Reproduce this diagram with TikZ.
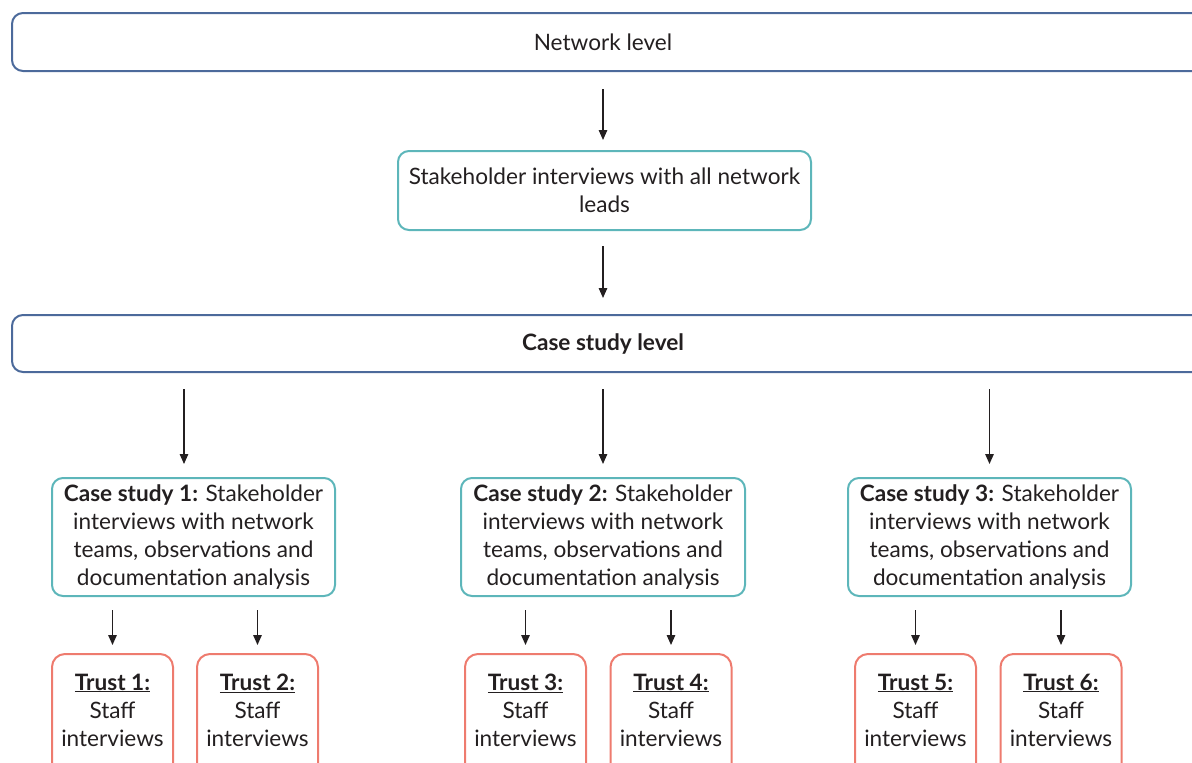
\documentclass[tikz,border=0pt]{standalone}
\usepackage{fontspec}
\setmainfont{Lato}
\usetikzlibrary{calc,arrows.meta}
\definecolor{bluebd}{HTML}{4C6A9B}
\definecolor{tealbd}{HTML}{5DB6BA}
\definecolor{salbd}{HTML}{EE7B6E}
\definecolor{txt}{HTML}{231F20}
\begin{document}
\begin{tikzpicture}[x=1pt,y=-1pt,
  tx/.style={text=txt,font=\fontsize{22.6}{28}\selectfont,align=center,inner sep=0pt},
  widebox/.style={draw=bluebd,line width=2pt,rounded corners=11pt,minimum height=58pt,anchor=west,inner sep=0pt},
  tealbox/.style={draw=tealbd,line width=2pt,rounded corners=11pt,text=txt,font=\fontsize{22.6}{28}\selectfont,align=center,inner sep=0pt},
  trustbox/.style={draw=salbd,line width=2pt,rounded corners=13pt,minimum width=121pt,minimum height=160pt,anchor=north,inner sep=0pt},
  arr/.style={draw=txt,line width=1.4pt,-{Triangle[length=10pt,width=8.5pt]}}]
\useasboundingbox (0,0) rectangle (1192,763);
% network level
\node[widebox,minimum width=1230pt] (net) at (11,42) {};
\node[tx] (nettx) at (603,42) {Network level};
% stakeholder
\node[tealbox,minimum width=413pt,minimum height=79pt] (stake) at (604.5,190.5) {Stakeholder interviews with all network\\leads};
% case study level
\node[widebox,minimum width=1230pt,minimum height=57pt] (case) at (11,343.5) {};
\node[tx] (casetx) at (603,343.5) {\textbf{Case study level}};
\draw[arr] ($(nettx |- net.south)+(0,17)$) -- ($(nettx |- stake.north)+(0,-10)$);
\draw[arr] ($(nettx |- stake.south)+(0,15)$) -- ($(casetx |- case.north)+(0,-16)$);
% case studies
\node[tealbox,minimum width=283pt,minimum height=118pt] (c1) at (193.5,537) {\textbf{Case study 1:} Stakeholder\\interviews with network\\teams, observations and\\documentation analysis};
\node[tealbox,minimum width=284pt,minimum height=118pt] (c2) at (603,537) {\textbf{Case study 2:} Stakeholder\\interviews with network\\teams, observations and\\documentation analysis};
\node[tealbox,minimum width=283pt,minimum height=118pt] (c3) at (989.5,537) {\textbf{Case study 3:} Stakeholder\\interviews with network\\teams, observations and\\documentation analysis};
\draw[arr] ($(case.south -| 184,0)+(0,16)$) -- ($(c1.north)+(-9.5,-13)$);
\draw[arr] ($(case.south -| c2.north)+(0,16)$) -- ($(c2.north)+(0,-13)$);
\draw[arr] ($(case.south -| c3.north)+(0,16)$) -- ($(c3.north)+(0,-13)$);
% trusts
\foreach \n/\x in {1/112.5,2/257.5,3/525.5,4/671,5/915.5,6/1061}{
  \node[trustbox] (t\n) at (\x,653) {};
  \node[tx] (tt\n) at (\x,710) {\underline{\textbf{Trust \n:}}\\Staff\\interviews};
}
\foreach \c/\t in {c1/t1,c1/t2,c2/t3,c2/t4,c3/t5,c3/t6}{
  \draw[arr] ($(\c.south -| \t.north)+(0,13)$) -- ($(\t.north)+(0,-8)$);
}
\end{tikzpicture}
\end{document}
